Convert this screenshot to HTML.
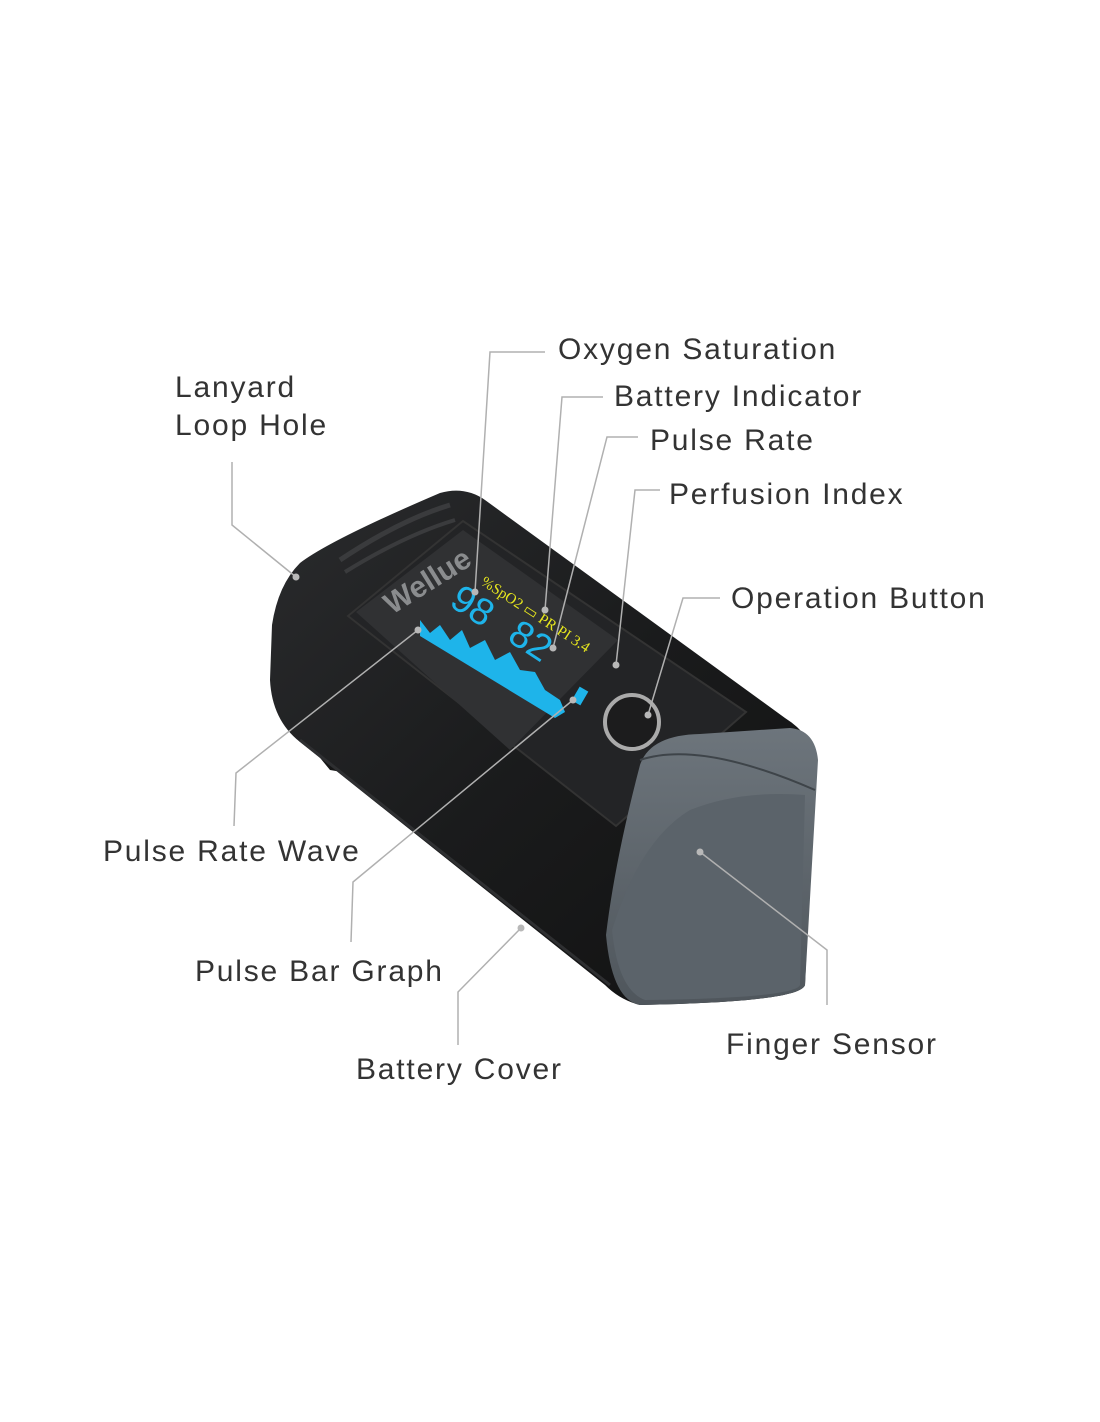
<!DOCTYPE html>
<html><head><meta charset="utf-8"><style>
html,body{margin:0;padding:0;background:#fff}
svg{display:block}
.l{font-family:"Liberation Sans","DejaVu Sans",sans-serif;font-size:30px;fill:#333;letter-spacing:1.8px}
</style></head><body>
<svg width="1100" height="1422" viewBox="0 0 1100 1422">
<defs>
<linearGradient id="bd" x1="0" y1="0" x2="1" y2="1">
<stop offset="0" stop-color="#2a2b2d"/><stop offset="0.5" stop-color="#1a1b1c"/><stop offset="1" stop-color="#111"/>
</linearGradient>
<linearGradient id="cap" x1="0" y1="0" x2="0" y2="1">
<stop offset="0" stop-color="#6d757c"/><stop offset="1" stop-color="#4f565c"/>
</linearGradient>
</defs>
<path d="M285,715 L320,695 L365,735 L360,775 L330,770 Z" fill="#161616"/>
<path d="M300,563 Q330,540 440,493 Q465,486 485,500 L785,718 Q812,735 815,760 L805,985 Q800,1002 640,1005 Q620,1000 605,985 L300,742 Q272,720 270,680 L272,625 Q278,585 300,563 Z" fill="url(#bd)"/>
<path d="M340,560 Q400,520 450,505" stroke="#3a3b3d" stroke-width="5" fill="none"/>
<path d="M345,572 Q405,535 455,520" stroke="#3a3b3d" stroke-width="4" fill="none"/>
<path d="M300,740 L610,985" stroke="#2e2f31" stroke-width="3" fill="none"/>
<path d="M348,616 L463,521 L746,712 L616,826 Z" fill="#232426" stroke="#333" stroke-width="2"/>
<path d="M356,612 L463,530 L618,640 L510,750 Z" fill="#303133"/>
<text x="0" y="0" transform="translate(392,615) rotate(-32)" font-family="Liberation Sans,sans-serif" font-weight="bold" font-size="30" fill="#8a8c8e">Wellue</text>
<path d="M420,620 L430,633 L440,625 L450,640 L462,630 L470,648 L485,640 L495,660 L510,652 L520,670 L535,672 L545,690 L560,700 L565,712 L555,718 L420,636 Z" fill="#1eb4ea"/>
<rect x="575" y="688" width="10" height="16" fill="#1eb4ea" transform="rotate(30 580 696)"/>
<text transform="translate(448,605) rotate(33)" font-family="Liberation Sans,sans-serif" font-size="38" fill="#1eb4ea">98</text>
<text transform="translate(506,640) rotate(33)" font-family="Liberation Sans,sans-serif" font-size="38" fill="#1eb4ea">82</text>
<text transform="translate(480,584) rotate(33)" font-family="Liberation Serif,serif" font-size="15" fill="#e6e61e">%SpO2 ▭ PR PI  3.4</text>
<circle cx="632" cy="722" r="27" fill="#1c1c1d" stroke="#aaa" stroke-width="4"/>
<path d="M606,935 Q615,860 640,765 Q650,735 700,734 L790,728 Q815,730 818,760 L805,985 Q800,1002 640,1005 Q612,1000 606,935 Z" fill="url(#cap)"/>
<path d="M612,930 Q640,840 690,810 Q740,790 805,795 L800,985 Q795,998 645,1000 Q618,990 612,930 Z" fill="#5b636a"/>
<path d="M640,760 Q700,740 815,790" stroke="#3e4449" stroke-width="2" fill="none"/>
<g stroke="#b0b0b0" stroke-width="1.5" fill="none">
<path d="M545,352 L490,352 L475,592"/>
<path d="M603,397 L562,397 L545,610"/>
<path d="M638,437 L607,437 L553,648"/>
<path d="M660,490 L635,490 L616,665"/>
<path d="M720,598 L683,598 L648,715"/>
<path d="M232,462 L232,525 L296,577"/>
<path d="M234,826 L236,773 L418,630"/>
<path d="M351,942 L353,882 L573,700"/>
<path d="M458,1045 L458,992 L521,928"/>
<path d="M827,1005 L827,950 L700,852"/>
</g>
<g fill="#b8b8b8">
<circle cx="475" cy="592" r="3.5"/><circle cx="545" cy="610" r="3.5"/><circle cx="553" cy="648" r="3.5"/>
<circle cx="616" cy="665" r="3.5"/><circle cx="648" cy="715" r="3.5"/><circle cx="296" cy="577" r="3.5"/>
<circle cx="418" cy="630" r="3.5"/><circle cx="573" cy="700" r="3.5"/><circle cx="521" cy="928" r="3.5"/>
<circle cx="700" cy="852" r="3.5"/>
</g>
<text class="l" x="558" y="359">Oxygen Saturation</text>
<text class="l" x="614" y="406">Battery Indicator</text>
<text class="l" x="650" y="450">Pulse Rate</text>
<text class="l" x="669" y="504">Perfusion Index</text>
<text class="l" x="175" y="397">Lanyard</text>
<text class="l" x="175" y="435">Loop Hole</text>
<text class="l" x="731" y="608">Operation Button</text>
<text class="l" x="103" y="861">Pulse Rate Wave</text>
<text class="l" x="195" y="981">Pulse Bar Graph</text>
<text class="l" x="356" y="1079">Battery Cover</text>
<text class="l" x="726" y="1054">Finger Sensor</text>
</svg>
</body></html>
